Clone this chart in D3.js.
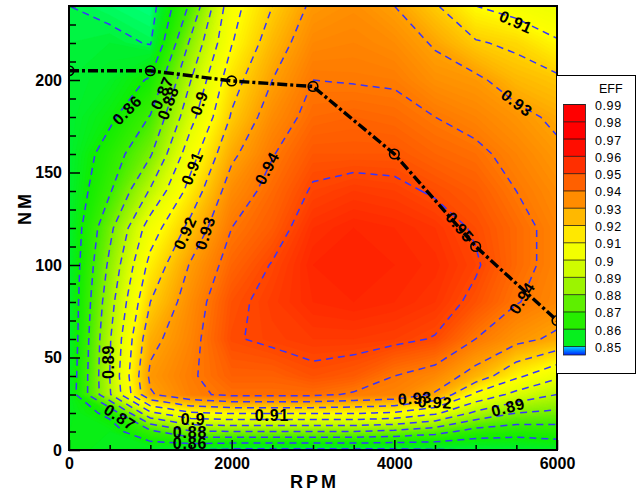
<!DOCTYPE html>
<html><head><meta charset="utf-8">
<script src="https://cdn.jsdelivr.net/npm/d3@7"></script>
<style>
body{margin:0;background:#fff;}
svg{display:block;font-family:"Liberation Sans",Arial,sans-serif;}
</style>
</head><body>
<svg id="c" width="642" height="494"></svg>
<script>
// ---------- data ----------
const rpmGrid = [0,500,1000,1500,2000,2500,3000,3500,4000,4500,5000,5500,6000];
const nmGrid  = [0,10,20,30,40,60,80,100,120,140,160,180,200,220,240];
// efficiency per RPM column, listed for NM = nmGrid (bottom to top)
const eff_rpm0    = [0.857,0.856,0.855,0.854,0.853,0.852,0.852,0.852,0.852,0.852,0.852,0.852,0.852,0.851,0.850];
const eff_rpm500  = [0.855,0.856,0.862,0.889,0.890,0.889,0.886,0.882,0.8775,0.869,0.8645,0.858,0.854,0.852,0.848];
const eff_rpm1000 = [0.853,0.868,0.898,0.929,0.932,0.927,0.920,0.913,0.905,0.891,0.879,0.8705,0.861,0.8495,0.846];
const eff_rpm1500 = [0.850,0.879,0.909,0.938,0.939,0.937,0.935,0.931,0.923,0.914,0.906,0.897,0.890,0.882,0.872];
const eff_rpm2000 = [0.848,0.880,0.911,0.942,0.945,0.9493,0.948,0.944,0.940,0.935,0.928,0.921,0.916,0.9095,0.9065];
const eff_rpm2500 = [0.848,0.880,0.911,0.942,0.945,0.9515,0.9525,0.9505,0.946,0.943,0.9395,0.935,0.930,0.925,0.920];
const eff_rpm3000 = [0.848,0.880,0.911,0.942,0.948,0.953,0.956,0.957,0.955,0.951,0.947,0.943,0.940,0.936,0.932];
const eff_rpm3500 = [0.848,0.880,0.911,0.939,0.946,0.953,0.957,0.958,0.957,0.953,0.947,0.944,0.9395,0.937,0.9345];
const eff_rpm4000 = [0.848,0.878,0.909,0.937,0.940,0.952,0.956,0.957,0.956,0.952,0.947,0.943,0.939,0.935,0.930];
const eff_rpm4500 = [0.849,0.874,0.902,0.929,0.936,0.9495,0.954,0.9555,0.954,0.949,0.944,0.940,0.934,0.929,0.921];
const eff_rpm5000 = [0.850,0.866,0.888,0.908,0.926,0.940,0.948,0.951,0.949,0.946,0.942,0.937,0.932,0.921,0.910];
const eff_rpm5500 = [0.851,0.864,0.880,0.897,0.912,0.933,0.9405,0.943,0.943,0.940,0.937,0.933,0.925,0.918,0.906];
const eff_rpm6000 = [0.853,0.865,0.878,0.890,0.902,0.928,0.936,0.937,0.937,0.935,0.932,0.928,0.922,0.911,0.903];
const effColumns = [eff_rpm0,eff_rpm500,eff_rpm1000,eff_rpm1500,eff_rpm2000,eff_rpm2500,eff_rpm3000,
                    eff_rpm3500,eff_rpm4000,eff_rpm4500,eff_rpm5000,eff_rpm5500,eff_rpm6000];

const contourLevels = [0.85,0.86,0.87,0.88,0.89,0.90,0.91,0.92,0.93,0.94,0.95,0.96];
const legendLevels  = [0.85,0.86,0.87,0.88,0.89,0.90,0.91,0.92,0.93,0.94,0.95,0.96,0.97,0.98,0.99];

const torqueRPM = [0,1000,2000,3000,4000,5000,6000];
const torqueNM  = [205,205,199.5,196.5,160,110,70];

const xTicks = [0,2000,4000,6000];
const yTicks = [0,50,100,150,200];

// contour labels (text, rpm, nm, angle)
const labelText = ["0.86","0.87","0.88","0.9","0.91","0.92","0.93","0.94","0.95","0.94","0.93","0.91","0.89","0.87","0.9","0.88","0.86","0.91","0.93","0.92","0.89"];
const labelRPM  = [713,1143,1217,1598,1512,1426,1672,2434,4807,5570,5508,5496,480,627,1525,1488,1488,2496,4254,4500,5398];
const labelNM   = [183.8,193,187.6,187.6,152.4,117.3,117.3,152.4,120.5,82.2,187.6,231.4,47.6,17.8,16.8,9.7,3.8,18.9,28.1,25.9,23.2];
const labelAng  = [-45,-66,-70,-70,-68,-66,-72,-62,50,-58,37,24,-90,33,0,0,0,0,-4,3,-15];

// ---------- styles ----------
const colorStops = [0.836,0.842,0.847,0.852,0.860,0.870,0.880,0.890,0.900,0.910,0.920,0.930,0.940,0.950,0.958,0.970];
const colorHex   = ["#0000ff","#00ffb0","#00ff70","#00f030","#10ee00","#3cee00","#80f000","#b8f800","#e6ff00","#ffff00","#ffd000","#ffa000","#ff7800","#ff4800","#ff2000","#ff0000"];
const color = d3.scaleLinear().domain(colorStops).range(colorHex).clamp(true);

// ---------- scales ----------
const x = d3.scaleLinear().domain([0,6000]).range([69,557]);
const y = d3.scaleLinear().domain([0,240]).range([450,6]);

const svg = d3.select("#c");
svg.append("defs").append("clipPath").attr("id","plotclip")
  .append("rect").attr("x",x(0)).attr("y",y(240)).attr("width",x(6000)-x(0)).attr("height",y(0)-y(240));

// grid -> values (row-major, rows = NM)
const nx = rpmGrid.length, ny = nmGrid.length;
const values = new Array(nx*ny);
for (let j=0;j<ny;j++) for (let i=0;i<nx;i++) values[j*nx+i] = effColumns[i][j];

const gx2rpm = d3.scaleLinear().domain(rpmGrid.map((d,i)=>i+0.5)).range(rpmGrid);
const gy2nm  = d3.scaleLinear().domain(nmGrid.map((d,i)=>i+0.5)).range(nmGrid);
const proj = d3.geoTransform({point(px,py){ this.stream.point(x(gx2rpm(px)), y(gy2nm(py))); }});
const path = d3.geoPath(proj);

const plot = svg.append("g").attr("clip-path","url(#plotclip)");
plot.append("rect").attr("x",x(0)).attr("y",y(240)).attr("width",x(6000)-x(0)).attr("height",y(0)-y(240))
  .attr("fill",color(0.84));

// flood
const fillThr = d3.range(0.836,0.962,0.001);
const floods = d3.contours().size([nx,ny]).thresholds(fillThr)(values);
plot.append("g").selectAll("path").data(floods).join("path")
  .attr("d",path).attr("fill",d=>color(d.value+0.0005)).attr("stroke",d=>color(d.value+0.0005)).attr("stroke-width",0.6);

// contour lines
const lines = d3.contours().size([nx,ny]).thresholds(contourLevels)(values);
plot.append("g").selectAll("path").data(lines).join("path")
  .attr("d",path).attr("fill","none").attr("stroke","#3535ff").attr("stroke-width",1.5)
  .attr("stroke-dasharray","7,5");

// torque curve
const pts = torqueRPM.map((r,i)=>[r,torqueNM[i]]);
plot.append("path").datum(pts)
  .attr("d",d3.line().x(d=>x(d[0])).y(d=>y(d[1])))
  .attr("fill","none").attr("stroke","#000").attr("stroke-width",3.4)
  .attr("stroke-dasharray","10,3,3,3");
plot.append("g").selectAll("circle").data(pts).join("circle")
  .attr("cx",d=>x(d[0])).attr("cy",d=>y(d[1])).attr("r",4.8)
  .attr("fill","none").attr("stroke","#000").attr("stroke-width",1.6);

// contour labels
plot.append("g").selectAll("text").data(labelText).join("text")
  .attr("transform",(d,i)=>`translate(${x(labelRPM[i])},${y(labelNM[i])}) rotate(${labelAng[i]})`)
  .attr("text-anchor","middle").attr("dy","0.36em")
  .style("font-size","16px").style("font-weight","bold").style("letter-spacing","0.8px")
  .attr("fill","#000").text(d=>d);

// ---------- axes ----------
function styleAxis(g){
  g.select(".domain").remove();
  g.selectAll(".tick line").attr("stroke","#000").attr("stroke-width",1.5);
  g.selectAll(".tick text").style("font-size","16px").style("font-weight","bold").attr("fill","#000");
}
const xMinor = d3.range(0,6001,500).filter(v=>!xTicks.includes(v));
const yMinor = d3.range(0,241,10).filter(v=>!yTicks.includes(v));

svg.append("g").attr("transform",`translate(0,${y(0)})`)
  .call(d3.axisBottom(x).tickValues(xMinor).tickSize(-5).tickFormat(""))
  .call(styleAxis);
svg.append("g").attr("transform",`translate(0,${y(0)})`)
  .call(d3.axisBottom(x).tickValues(xTicks).tickSize(-10).tickPadding(8).tickFormat(d3.format("d")))
  .call(styleAxis);
svg.append("g").attr("transform",`translate(${x(0)},0)`)
  .call(d3.axisLeft(y).tickValues(yMinor).tickSize(-7).tickFormat(""))
  .call(styleAxis);
svg.append("g").attr("transform",`translate(${x(0)},0)`)
  .call(d3.axisLeft(y).tickValues(yTicks).tickSize(-11).tickPadding(7).tickFormat(d3.format("d")))
  .call(styleAxis);

svg.append("rect").attr("x",x(0)).attr("y",y(240)).attr("width",x(6000)-x(0)).attr("height",y(0)-y(240))
  .attr("fill","none").attr("stroke","#000").attr("stroke-width",2);

svg.append("text").attr("x",x(3000)+1.5).attr("y",488).attr("text-anchor","middle")
  .style("font-size","18px").style("font-weight","bold").style("letter-spacing","3px").text("RPM");
svg.append("text").attr("transform","translate(31,208) rotate(-90)").attr("text-anchor","middle")
  .style("font-size","18px").style("font-weight","bold").style("letter-spacing","3px").text("NM");

// ---------- legend ----------
const lg = svg.append("g");
lg.append("rect").attr("x",556.5).attr("y",75.5).attr("width",79).attr("height",298)
  .attr("fill","#fff").attr("stroke","#000").attr("stroke-width",1);
lg.append("text").attr("x",599).attr("y",93).style("font-size","12.5px").text("EFF");
const ls = d3.scaleLinear().domain([0.85,0.99]).range([346.5,104.5]);
const grad = svg.select("defs").append("linearGradient").attr("id","lowgrad").attr("x1",0).attr("x2",0).attr("y1",0).attr("y2",1);
grad.append("stop").attr("offset","0%").attr("stop-color","#00d8ff");
grad.append("stop").attr("offset","100%").attr("stop-color","#0020ff");
lg.append("rect").attr("x",563.5).attr("y",ls(0.85)).attr("width",22).attr("height",8.5).attr("fill","url(#lowgrad)");
lg.append("g").selectAll("rect").data(legendLevels.slice(0,-1)).join("rect")
  .attr("x",563.5).attr("width",22)
  .attr("y",(d,i)=>ls(legendLevels[i+1])).attr("height",(d,i)=>ls(d)-ls(legendLevels[i+1]))
  .attr("fill",d=>color(d+0.005));
lg.append("g").selectAll("line").data(legendLevels).join("line")
  .attr("x1",563.5).attr("x2",585.5).attr("y1",d=>ls(d)).attr("y2",d=>ls(d))
  .attr("stroke","#000").attr("stroke-opacity",0.7).attr("stroke-width",1);
lg.append("rect").attr("x",563.5).attr("y",ls(0.99)).attr("width",22).attr("height",ls(0.85)+8.5-ls(0.99))
  .attr("fill","none").attr("stroke","#222").attr("stroke-width",0.8);
lg.append("g").selectAll("text").data(legendLevels).join("text")
  .attr("x",595).attr("y",d=>ls(d)+1).attr("dy","0.36em")
  .style("font-size","12.5px").style("letter-spacing","0.6px").attr("fill","#000")
  .text(d=>String(+d.toFixed(2)));
</script>
</body></html>
